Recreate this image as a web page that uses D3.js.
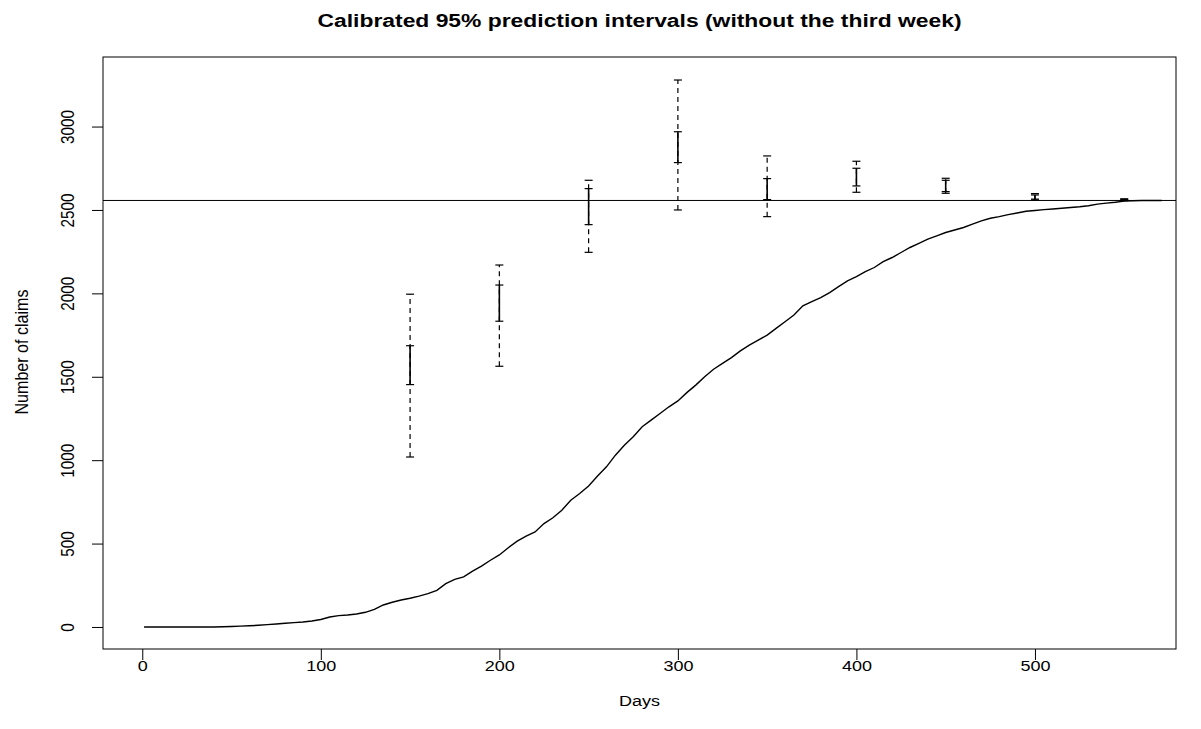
<!DOCTYPE html>
<html>
<head>
<meta charset="utf-8">
<script src="https://cdn.jsdelivr.net/npm/d3@7"></script>
<style>
  html, body { margin: 0; padding: 0; background: #fff; }
  svg { display: block; }
  text { font-family: "Liberation Sans", Arial, Helvetica, sans-serif; fill: #000; }
</style>
</head>
<body>
<svg id="chart" width="1201" height="729"></svg>
<script>
// ---- data ----
const titleText = "Calibrated 95% prediction intervals (without the third week)";
const xLabel = "Days";
const yLabel = "Number of claims";
const xTicks = [0, 100, 200, 300, 400, 500];
const yTicks = [0, 500, 1000, 1500, 2000, 2500, 3000];

// observed cumulative number of claims
const curveDays = [1, 5, 10, 15, 20, 25, 30, 35, 40, 45, 50, 55, 60, 65, 70, 75, 80, 85, 90, 95,
  100, 105, 110, 115, 120, 125, 130, 135, 140, 145, 150, 155, 160, 165, 170, 175, 180, 185, 190, 195,
  200, 205, 210, 215, 220, 225, 230, 235, 240, 245, 250, 255, 260, 265, 270, 275, 280, 285, 290, 295,
  300, 305, 310, 315, 320, 325, 330, 335, 340, 345, 350, 355, 360, 365, 370, 375, 380, 385, 390, 395,
  400, 405, 410, 415, 420, 425, 430, 435, 440, 445, 450, 455, 460, 465, 470, 475, 480, 485, 490, 495,
  500, 505, 510, 515, 520, 525, 530, 535, 540, 545, 550, 555, 560, 565, 571];
const curveClaims = [0, 0, 0, 0, 0, 0, 0, 0, 0, 1, 3, 5, 7, 10, 14, 18, 22, 26, 30, 36,
  45, 60, 68, 72, 78, 88, 105, 132, 148, 162, 172, 185, 200, 220, 260, 285, 300, 335, 365, 400,
  432, 475, 515, 545, 570, 620, 655, 700, 760, 800, 845, 905, 960, 1030, 1090, 1140, 1200, 1240, 1280, 1320,
  1355, 1405, 1450, 1500, 1545, 1580, 1615, 1655, 1690, 1720, 1750, 1790, 1830, 1870, 1925, 1950, 1975, 2005, 2040, 2075,
  2100, 2130, 2155, 2190, 2215, 2245, 2275, 2300, 2325, 2345, 2365, 2380, 2395, 2415, 2435, 2450, 2460, 2472, 2482, 2492,
  2497, 2502, 2506, 2510, 2515, 2519, 2525, 2535, 2541, 2546, 2553, 2555, 2557, 2557, 2557];

// calibrated prediction intervals
const barDays   = [150, 200, 250, 300, 350, 400, 450, 500, 550];
const outerHigh = [1995, 2170, 2678, 3279, 2824, 2792, 2690, 2598, 2567];
const innerHigh = [1686, 2050, 2628, 2969, 2688, 2750, 2678, 2590, 2563];
const innerLow  = [1453, 1833, 2412, 2784, 2562, 2644, 2610, 2565, 2558];
const outerLow  = [1019, 1563, 2246, 2500, 2460, 2606, 2600, 2560, 2556];

const ultimate = 2557;

// ---- layout ----
const svg = d3.select("#chart");
const mLeft = 103, mRight = 1176, mTop = 57, mBottom = 649;
const x = d3.scaleLinear().domain([-22, 579]).range([mLeft, mRight]);
const y = d3.scaleLinear().domain([-132, 3417]).range([mBottom, mTop]);
const tickLen = 11;
const capHalf = 4;
const squash = 0.85;

// title
svg.append("text")
  .attr("transform", `translate(${(mLeft + mRight) / 2},27) scale(1,${squash})`)
  .attr("text-anchor", "middle")
  .style("font-weight", "bold").style("font-size", "22px")
  .attr("textLength", 644).attr("lengthAdjust", "spacingAndGlyphs")
  .text(titleText);

// axes
const xAxis = d3.axisBottom(x).tickValues(xTicks).tickSize(tickLen).tickFormat(d3.format("d"));
const gx = svg.append("g").attr("transform", `translate(0,${mBottom})`).call(xAxis);
gx.select(".domain").remove();
gx.selectAll("line").attr("stroke", "#000");
gx.selectAll("text")
  .style("font-size", "18px").attr("fill", "#000").style("font-family", "Liberation Sans, Arial, sans-serif")
  .attr("y", 0).attr("dy", 0)
  .attr("transform", `translate(0,22) scale(1,${squash})`);

const yAxis = d3.axisLeft(y).tickValues(yTicks).tickSize(tickLen).tickFormat(d3.format("d"));
const gy = svg.append("g").attr("transform", `translate(${mLeft},0)`).call(yAxis);
gy.select(".domain").remove();
gy.selectAll("line").attr("stroke", "#000");
gy.selectAll("text")
  .style("font-size", "18px").attr("fill", "#000").style("font-family", "Liberation Sans, Arial, sans-serif")
  .attr("text-anchor", "middle")
  .attr("x", 0).attr("dy", 0)
  .attr("transform", `translate(-29,0) rotate(-90) scale(${squash},1)`);

// axis titles
svg.append("text")
  .attr("transform", `translate(${(mLeft + mRight) / 2},706) scale(1,${squash})`)
  .attr("text-anchor", "middle").style("font-size", "18px")
  .text(xLabel);
svg.append("text")
  .attr("transform", `translate(28,352) rotate(-90)`)
  .attr("text-anchor", "middle").style("font-size", "18px")
  .attr("textLength", 125).attr("lengthAdjust", "spacingAndGlyphs")
  .text(yLabel);

// box
svg.append("rect")
  .attr("x", mLeft).attr("y", mTop)
  .attr("width", mRight - mLeft).attr("height", mBottom - mTop)
  .attr("fill", "none").attr("stroke", "#000").attr("stroke-width", 1);

// horizontal ultimate line
svg.append("line")
  .attr("x1", mLeft).attr("x2", mRight)
  .attr("y1", y(ultimate)).attr("y2", y(ultimate))
  .attr("stroke", "#000").attr("stroke-width", 1);

// cumulative claims curve
const pts = curveDays.map((d, i) => [d, curveClaims[i]]);
svg.append("path")
  .datum(pts)
  .attr("fill", "none").attr("stroke", "#000").attr("stroke-width", 1.4)
  .attr("d", d3.line().x(d => x(d[0])).y(d => y(d[1])));

// error bars
const bars = barDays.map((d, i) => ({ d, oh: outerHigh[i], ih: innerHigh[i], il: innerLow[i], ol: outerLow[i] }));
const gb = svg.append("g");
const eb = gb.selectAll("g").data(bars).join("g");
// dashed outer
eb.append("line")
  .attr("x1", b => x(b.d)).attr("x2", b => x(b.d))
  .attr("y1", b => y(b.ol)).attr("y2", b => y(b.oh))
  .attr("stroke", "#000").attr("stroke-width", 1.2).attr("stroke-dasharray", "5,4");
// solid inner
eb.append("line")
  .attr("x1", b => x(b.d)).attr("x2", b => x(b.d))
  .attr("y1", b => y(b.il)).attr("y2", b => y(b.ih))
  .attr("stroke", "#000").attr("stroke-width", 1.6);
// caps
["oh", "ih", "il", "ol"].forEach(k => {
  eb.append("line")
    .attr("x1", b => x(b.d) - capHalf).attr("x2", b => x(b.d) + capHalf)
    .attr("y1", b => y(b[k])).attr("y2", b => y(b[k]))
    .attr("stroke", "#000").attr("stroke-width", 1.2);
});
</script>
</body>
</html>
